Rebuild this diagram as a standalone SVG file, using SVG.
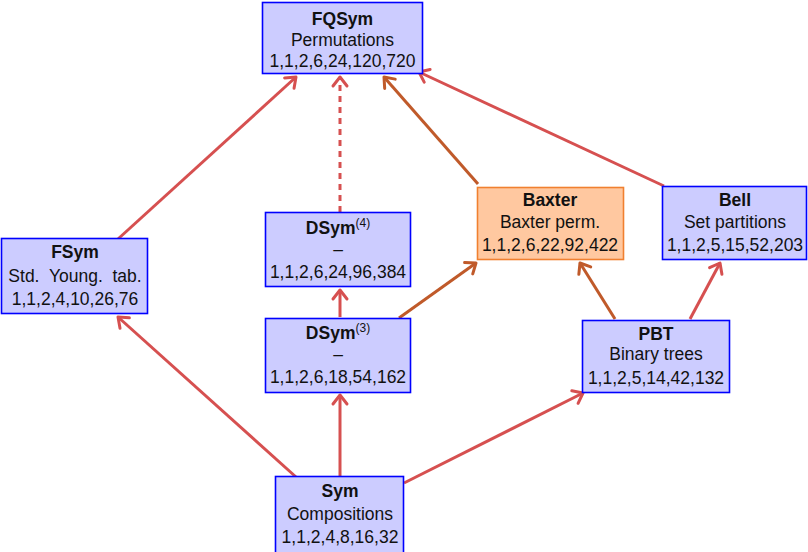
<svg xmlns="http://www.w3.org/2000/svg" width="808" height="552" viewBox="0 0 808 552">
  <defs>
    <style>
      .box { fill: #ccccff; stroke: #0000ff; stroke-width: 1.6; }
      .obox { fill: #ffc8a0; stroke: #f08030; stroke-width: 1.6; }
      text { font-family: "Liberation Sans", Arial, sans-serif; font-size: 17.5px; fill: #111; text-anchor: middle; }
      .t { font-weight: bold; }
      .red { stroke: #d65050; stroke-width: 3; fill: none; marker-end: url(#ahRed); }
      .brn { stroke: #c05a2a; stroke-width: 3; fill: none; marker-end: url(#ahBrn); }
      .dash { stroke-dasharray: 6 5; }
    </style>
    <marker id="ahRed" markerUnits="userSpaceOnUse" viewBox="-12 -9 14 18" refX="0" refY="0" markerWidth="14" markerHeight="18" orient="auto" overflow="visible">
      <path d="M-9,-7 L0,0 L-9,7" fill="none" stroke="#d65050" stroke-width="3" stroke-linecap="round" stroke-linejoin="round"/>
    </marker>
    <marker id="ahBrn" markerUnits="userSpaceOnUse" viewBox="-12 -9 14 18" refX="0" refY="0" markerWidth="14" markerHeight="18" orient="auto" overflow="visible">
      <path d="M-9,-7 L0,0 L-9,7" fill="none" stroke="#c05a2a" stroke-width="3" stroke-linecap="round" stroke-linejoin="round"/>
    </marker>
  </defs>

  <g id="connectors">
    <line class="red" x1="118" y1="239" x2="296" y2="77"/>
    <line class="red dash" x1="340" y1="212" x2="340" y2="77"/>
    <line class="brn" x1="478" y1="184" x2="384" y2="77"/>
    <line class="red" x1="664" y1="186" x2="419" y2="72"/>
    <line class="red" x1="340" y1="317" x2="340" y2="290"/>
    <line class="brn" x1="399" y1="318" x2="476" y2="263"/>
    <line class="brn" x1="615" y1="319" x2="580" y2="263"/>
    <line class="red" x1="690" y1="319" x2="720" y2="263"/>
    <line class="red" x1="296" y1="477" x2="118" y2="317"/>
    <line class="red" x1="340" y1="477" x2="340" y2="395"/>
    <line class="red" x1="404" y1="483" x2="583" y2="393"/>
  </g>

  <g id="FQSym">
    <rect class="box" x="262.5" y="2.5" width="160" height="71"/>
    <text class="t" x="342.5" y="25">FQSym</text>
    <text x="342.5" y="46">Permutations</text>
    <text x="342.5" y="67">1,1,2,6,24,120,720</text>
  </g>

  <g id="FSym">
    <rect class="box" x="1.5" y="238.5" width="146" height="75"/>
    <text class="t" x="75" y="258">FSym</text>
    <text x="75" y="282" xml:space="preserve">Std.  Young.  tab.</text>
    <text x="75" y="305">1,1,2,4,10,26,76</text>
  </g>

  <g id="DSym4">
    <rect class="box" x="265.5" y="212.5" width="145" height="74"/>
    <text x="338" y="234"><tspan class="t">DSym</tspan><tspan font-size="12" dy="-7">(4)</tspan></text>
    <text x="338" y="255">–</text>
    <text x="338" y="278">1,1,2,6,24,96,384</text>
  </g>

  <g id="DSym3">
    <rect class="box" x="265.5" y="318.5" width="145" height="74"/>
    <text x="338" y="339"><tspan class="t">DSym</tspan><tspan font-size="12" dy="-7">(3)</tspan></text>
    <text x="338" y="360">–</text>
    <text x="338" y="383">1,1,2,6,18,54,162</text>
  </g>

  <g id="Baxter">
    <rect class="obox" x="477.5" y="187.5" width="146" height="72"/>
    <text class="t" x="550" y="206">Baxter</text>
    <text x="550" y="228">Baxter perm.</text>
    <text x="550" y="251">1,1,2,6,22,92,422</text>
  </g>

  <g id="Bell">
    <rect class="box" x="662.5" y="186.5" width="144" height="73"/>
    <text class="t" x="735" y="206">Bell</text>
    <text x="735" y="228">Set partitions</text>
    <text x="735" y="251">1,1,2,5,15,52,203</text>
  </g>

  <g id="PBT">
    <rect class="box" x="582.5" y="320.5" width="147" height="72"/>
    <text class="t" x="656" y="340">PBT</text>
    <text x="656" y="360">Binary trees</text>
    <text x="656" y="384">1,1,2,5,14,42,132</text>
  </g>

  <g id="Sym">
    <rect class="box" x="275.5" y="476.5" width="128" height="77"/>
    <text class="t" x="340" y="497">Sym</text>
    <text x="340" y="520">Compositions</text>
    <text x="340" y="543">1,1,2,4,8,16,32</text>
  </g>
</svg>
